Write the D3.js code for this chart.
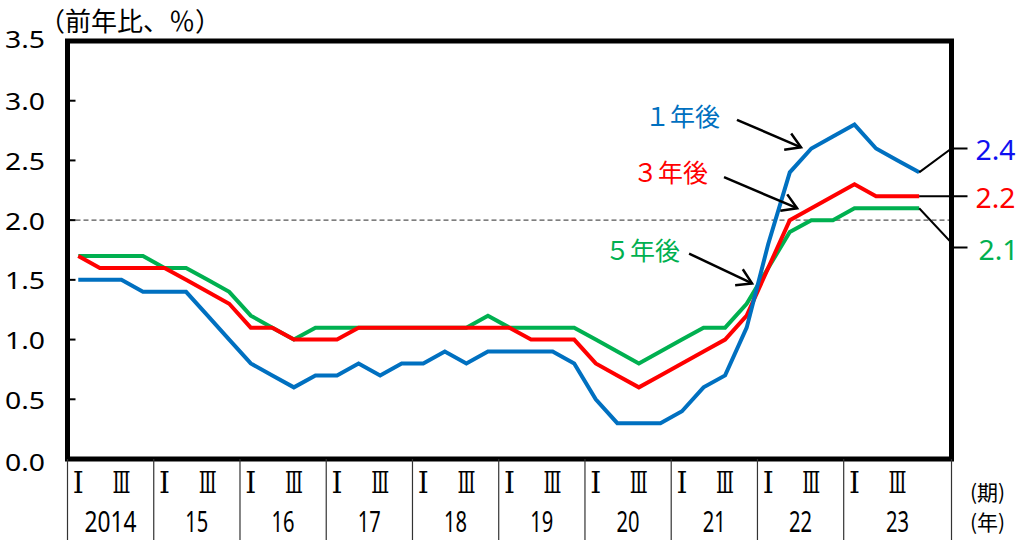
<!DOCTYPE html>
<html><head><meta charset="utf-8">
<script src="https://cdn.jsdelivr.net/npm/d3@7"></script>
<style>
html,body{margin:0;padding:0;background:#fff;}
svg{display:block;}
</style></head>
<body>
<svg id="chart" width="1022" height="540"></svg>
<script>
// ---------- data ----------
const years = ["2014","15","16","17","18","19","20","21","22","23"];
const quarterMarks = ["Ⅰ","","Ⅲ",""];
const yTickValues = [0,0.5,1.0,1.5,2.0,2.5,3.0,3.5];
const yTickLabels = ["0.0","0.5","1.0","1.5","2.0","2.5","3.0","3.5"];
const oneYear   = [1.5,1.5,1.5,1.4, 1.4,1.4,1.2,1.0, 0.8,0.7,0.6,0.7, 0.7,0.8,0.7,0.8, 0.8,0.9,0.8,0.9, 0.9,0.9,0.9,0.8, 0.5,0.3,0.3,0.3, 0.4,0.6,0.7,1.1, 1.8,2.4,2.6,2.7, 2.8,2.6,2.5,2.4];
const threeYear = [1.7,1.6,1.6,1.6, 1.6,1.5,1.4,1.3, 1.1,1.1,1.0,1.0, 1.0,1.1,1.1,1.1, 1.1,1.1,1.1,1.1, 1.1,1.0,1.0,1.0, 0.8,0.7,0.6,0.7, 0.8,0.9,1.0,1.2, 1.6,2.0,2.1,2.2, 2.3,2.2,2.2,2.2];
const fiveYear  = [1.7,1.7,1.7,1.7, 1.6,1.6,1.5,1.4, 1.2,1.1,1.0,1.1, 1.1,1.1,1.1,1.1, 1.1,1.1,1.1,1.2, 1.1,1.1,1.1,1.1, 1.0,0.9,0.8,0.9, 1.0,1.1,1.1,1.3, 1.6,1.9,2.0,2.0, 2.1,2.1,2.1,2.1];
const seriesNames  = ["１年後","３年後","５年後"];
const seriesColors = ["#0070C0","#FF0000","#00B050"];
const endLabelColors = ["#1010F0","#FF0000","#00B050"];
const referenceLine = 2.0;
const slotCount = 41; // 40 quarters + one empty slot at the right edge

// annotation positions in data units (quarter slot, value)
const annotations = [
  {series:0, tx:30.26, ty:2.88, ax1:31.05, ay1:2.84, ax2:34.02, ay2:2.61},
  {series:1, tx:29.71, ty:2.41, ax1:30.45, ay1:2.36, ax2:33.84, ay2:2.10},
  {series:2, tx:28.41, ty:1.76, ax1:28.83, ay1:1.72, ax2:31.75, ay2:1.47}
];
// end-label leader geometry in value units
const endLeaders = [
  {series:0, kinkV:2.60, labelV:2.60},
  {series:1, kinkV:2.20, labelV:2.20},
  {series:2, kinkV:1.81, labelV:1.77}
];

// ---------- layout ----------
const svg = d3.select("#chart");
const padL = 67.5, padR = 951.5, padT = 41, padB = 459;
const x = d3.scaleLinear().domain([0, slotCount]).range([padL, padR]);
const y = d3.scaleLinear().domain([0, 3.5]).range([padB, padT]);
const numFont = "'Noto Sans','DejaVu Sans',sans-serif";
const jpFont = "'Noto Sans CJK JP','Noto Sans',sans-serif";
const romanFont = "'DejaVu Serif','Liberation Serif',serif";

// reference dashed line
svg.append("line")
  .attr("x1", x(0)).attr("x2", x(slotCount))
  .attr("y1", y(referenceLine)).attr("y2", y(referenceLine))
  .attr("stroke", "#555").attr("stroke-width", 1.4).attr("stroke-dasharray", "5,3");

// series lines
const allSeries = [oneYear, threeYear, fiveYear];
const line = d3.line().x((d,i) => x(i + 0.5)).y(d => y(d));
[2,1,0].forEach(s => {
  svg.append("path").datum(allSeries[s])
    .attr("d", line).attr("fill", "none")
    .attr("stroke", seriesColors[s]).attr("stroke-width", 4)
    .attr("stroke-linejoin", "miter");
});

// frame
svg.append("rect")
  .attr("x", padL).attr("y", padT)
  .attr("width", padR - padL).attr("height", padB - padT)
  .attr("fill", "none").attr("stroke", "#000").attr("stroke-width", 5);

// y ticks (inward) and labels
yTickValues.forEach((v,i) => {
  svg.append("line").attr("x1", padL).attr("x2", padL + 8)
    .attr("y1", y(v)).attr("y2", y(v))
    .attr("stroke", "#000").attr("stroke-width", 2);
  svg.append("text").text(yTickLabels[i])
    .attr("x", 5).attr("y", y(v) + (v === 3.5 ? -3 : (v === 0 ? 2 : 0)))
    .attr("dominant-baseline", "central")
    .attr("font-family", numFont).attr("font-size", 24)
    .attr("textLength", 40).attr("lengthAdjust", "spacingAndGlyphs")
    .attr("fill", "#000");
});

// y-axis unit title
svg.append("text").text("（前年比、％）")
  .attr("x", 39).attr("y", 19)
  .attr("dominant-baseline", "central")
  .attr("font-family", jpFont).attr("font-size", 26).attr("fill", "#000");

// category table under the axis
years.forEach((yr, k) => {
  const x0 = x(k * 4), x1 = (k === years.length - 1) ? x(slotCount) : x(k * 4 + 4);
  svg.append("line").attr("x1", x0).attr("x2", x0).attr("y1", padB).attr("y2", 540)
    .attr("stroke", "#333").attr("stroke-width", 1.2);
  quarterMarks.forEach((q, j) => {
    if (!q) return;
    const w = q === "Ⅰ" ? 11 : 18;
    svg.append("text").text(q)
      .attr("x", x(k * 4 + j + 0.5) - w / 2).attr("y", 493)
      .attr("font-family", romanFont).attr("font-size", 30)
      .attr("textLength", w).attr("lengthAdjust", "spacingAndGlyphs")
      .attr("fill", "#000");
  });
  const w = yr.length === 4 ? 52 : 23;
  svg.append("text").text(yr)
    .attr("x", (x0 + x1) / 2 - w / 2).attr("y", 532)
    .attr("font-family", numFont).attr("font-size", 29)
    .attr("textLength", w).attr("lengthAdjust", "spacingAndGlyphs")
    .attr("fill", "#000");
});
svg.append("line").attr("x1", x(slotCount)).attr("x2", x(slotCount)).attr("y1", padB).attr("y2", 540)
  .attr("stroke", "#333").attr("stroke-width", 1.2);

svg.append("text").text("(期)").attr("x", 970).attr("y", 500)
  .attr("font-family", jpFont).attr("font-size", 21).attr("fill", "#000");
svg.append("text").text("(年)").attr("x", 970).attr("y", 530)
  .attr("font-family", jpFont).attr("font-size", 21).attr("fill", "#000");

// annotations with arrows
annotations.forEach(a => {
  svg.append("text").text(seriesNames[a.series])
    .attr("x", x(a.tx)).attr("y", y(a.ty))
    .attr("text-anchor", "end").attr("dominant-baseline", "central")
    .attr("font-family", jpFont).attr("font-size", 25)
    .attr("fill", seriesColors[a.series]);
  const X1 = x(a.ax1), Y1 = y(a.ay1), X2 = x(a.ax2), Y2 = y(a.ay2);
  const ang = Math.atan2(Y2 - Y1, X2 - X1), L = 17, spread = 0.55;
  const b1 = [X2 - L * Math.cos(ang - spread), Y2 - L * Math.sin(ang - spread)];
  const b2 = [X2 - L * Math.cos(ang + spread), Y2 - L * Math.sin(ang + spread)];
  svg.append("line").attr("x1", X1).attr("y1", Y1).attr("x2", X2).attr("y2", Y2)
    .attr("stroke", "#000").attr("stroke-width", 2.5);
  svg.append("path")
    .attr("d", `M${b1[0]},${b1[1]}L${X2},${Y2}L${b2[0]},${b2[1]}`)
    .attr("fill", "none").attr("stroke", "#000").attr("stroke-width", 2.5)
    .attr("stroke-linejoin", "miter");
});

// end labels with leader lines
endLeaders.forEach(e => {
  const data = allSeries[e.series];
  const last = data.length - 1;
  const px = x(last + 0.5), py = y(data[last]);
  const kx = x(slotCount), ky = y(e.kinkV);
  svg.append("path")
    .attr("d", `M${px},${py}L${kx},${ky}L${kx + 2},${y(e.labelV)}L${kx + 16},${y(e.labelV)}`)
    .attr("fill", "none").attr("stroke", "#000").attr("stroke-width", 2);
  svg.append("text").text(data[last].toFixed(1))
    .attr("x", kx + 24 + (e.series === 2 ? 3 : 0)).attr("y", y(e.labelV) + 1)
    .attr("dominant-baseline", "central")
    .attr("font-family", numFont).attr("font-size", 28)
    .attr("textLength", 40).attr("lengthAdjust", "spacingAndGlyphs")
    .attr("fill", endLabelColors[e.series]);
});
</script>
</body></html>
